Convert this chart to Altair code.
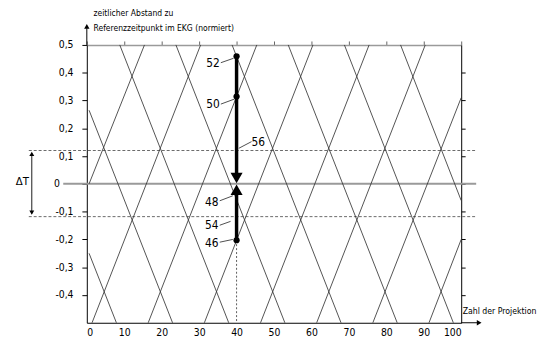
import altair as alt
import pandas as pd

FONT = "Liberation Sans Narrow, DejaVu Sans Condensed, Liberation Sans, Arial, sans-serif"

# ---- rising segments (projection, normalised time distance) ----
up_x1 = [0.6, 1.4, 16.4, 31.4, 46.4, 61.4, 76.4, 91.4]
up_y1 = [0.0, -0.5, -0.5, -0.5, -0.5, -0.5, -0.5, -0.5]
up_x2 = [15.4, 30.4, 45.4, 60.4, 75.4, 90.4, 100, 100]
up_y2 = [0.5, 0.5, 0.5, 0.5, 0.5, 0.5, 0.31, -0.2]
# ---- falling segments ----
dn_x1 = [0.6, 0.6, 8.8, 23.8, 38.8, 53.8, 68.8, 83.8]
dn_y1 = [-0.25, 0.265, 0.5, 0.5, 0.5, 0.5, 0.5, 0.5]
dn_x2 = [7.9, 22.9, 37.9, 52.9, 67.9, 82.9, 97.9, 100]
dn_y2 = [-0.5, -0.5, -0.5, -0.5, -0.5, -0.5, -0.5, -0.06]

# tolerance band (Delta T)
band_y = [0.12, -0.118]
band_x = [-15.5, 104]
zero_x = [-6.3, 104]

# selected projection and marked points
sel_x = 40
dot_labels = ["52", "50", "46"]
dot_y = [0.459, 0.314, -0.203]
arrow_top = [0.459, 0.03]
arrow_bot = [-0.203, -0.03]
head_down_y = 0.021
head_up_y = -0.021

# annotation labels and leader lines
lab_text = ["52", "50", "56", "48", "54", "46"]
lab_x = [33.7, 33.7, 45.8, 33.4, 33.4, 33.4]
lab_y = [0.436, 0.287, 0.152, -0.064, -0.149, -0.213]
lead_x1 = [35.8, 35.8, 44.0, 35.5, 35.5, 35.5]
lead_y1 = [0.436, 0.287, 0.152, -0.061, -0.149, -0.21]
lead_x2 = [39.2, 39.4, 40.6, 39.0, 38.4, 39.0]
lead_y2 = [0.452, 0.305, 0.128, -0.043, -0.135, -0.2]

x_ticks = [0, 10, 20, 30, 40, 50, 60, 70, 80, 90, 100]
y_ticks = [-0.4, -0.3, -0.2, -0.1, 0, 0.1, 0.2, 0.3, 0.4, 0.5]
y_ticks_right = [-0.4, -0.3, -0.2, -0.1, 0, 0.1, 0.2, 0.3, 0.4]

y_title = ["zeitlicher Abstand zu", "Referenzzeitpunkt im EKG (normiert)"]
y_title_y = [0.613, 0.56]
x_title = "Zahl der Projektion"

xs = alt.Scale(domain=[0, 100], nice=False, zero=False)
ys = alt.Scale(domain=[-0.5, 0.5], nice=False, zero=False)

seg = pd.DataFrame({
    "x1": up_x1 + dn_x1, "y1": up_y1 + dn_y1,
    "x2": up_x2 + dn_x2, "y2": up_y2 + dn_y2,
})

# zero is written separately, left of the grey zero line
label_expr = ("datum.value == 0 ? '' : replace(replace(format(datum.value, '.1f'), '.', ','), '\u2212', '-')")

lines = alt.Chart(seg).mark_rule(color="#333333", strokeWidth=0.85).encode(
    x=alt.X("x1:Q", scale=xs, axis=alt.Axis(
        orient="bottom", values=x_ticks, format="d", ticks=False, labelPadding=5,
        labelFontSize=10.5, labelColor="black", domainColor="black", domainWidth=1,
        grid=False, title=None)),
    y=alt.Y("y1:Q", scale=ys, axis=alt.Axis(
        orient="left", values=y_ticks, labelExpr=label_expr, tickSize=5, tickColor="black",
        labelPadding=9, labelFontSize=10.5, labelColor="black", domainColor="black",
        domainWidth=1, grid=False, title=None)),
    x2="x2:Q", y2="y2:Q",
)

ghost = alt.Chart(pd.DataFrame({"x": [0, 100], "y": [-0.5, 0.5]})).mark_point(opacity=0).encode(
    x=alt.X("x:Q", scale=xs, axis=alt.Axis(
        orient="top", values=x_ticks, labels=False, tickSize=4, tickColor="#666",
        domainColor="#9a9a9a", domainWidth=1.6, grid=False, title=None)),
    y=alt.Y("y:Q", scale=ys, axis=alt.Axis(
        orient="right", values=y_ticks_right, labels=False, tickSize=4, tickColor="black",
        domainColor="black", domainWidth=1, grid=False, title=None)),
)

def X(field):
    return alt.X(field, scale=xs, axis=None)

def Y(field):
    return alt.Y(field, scale=ys, axis=None)

zero_line = alt.Chart(pd.DataFrame({"a": [zero_x[0]], "b": [zero_x[1]], "y": [0]})).mark_rule(
    color="#9a9a9a", strokeWidth=2).encode(x=X("a:Q"), x2="b:Q", y=Y("y:Q"))
zero_label = alt.Chart(pd.DataFrame({"x": [-7.2], "y": [0], "t": ["0"]})).mark_text(
    fontSize=10.5, color="black", align="right", baseline="middle", font=FONT).encode(
    x=X("x:Q"), y=Y("y:Q"), text="t:N")

band = alt.Chart(pd.DataFrame({"y": band_y, "a": [band_x[0]] * 2, "b": [band_x[1]] * 2})).mark_rule(
    color="#444", strokeWidth=0.8, strokeDash=[3, 2]).encode(x=X("a:Q"), x2="b:Q", y=Y("y:Q"))

# axis extensions with arrowheads
yext = alt.Chart(pd.DataFrame({"x": [0], "a": [0.5], "b": [0.56]})).mark_rule(
    color="black", strokeWidth=1).encode(x=X("x:Q"), y=Y("a:Q"), y2="b:Q")
yhead = alt.Chart(pd.DataFrame({"x": [0], "y": [0.567]})).mark_point(
    shape="triangle-up", filled=True, color="black", size=30, opacity=1).encode(x=X("x:Q"), y=Y("y:Q"))
xext = alt.Chart(pd.DataFrame({"a": [100], "b": [104.5], "y": [-0.5]})).mark_rule(
    color="black", strokeWidth=1).encode(x=X("a:Q"), x2="b:Q", y=Y("y:Q"))
xhead = alt.Chart(pd.DataFrame({"x": [104.8], "y": [-0.5]})).mark_point(
    shape="triangle-right", filled=True, color="black", size=30, opacity=1).encode(x=X("x:Q"), y=Y("y:Q"))

# Delta T arrow
dt_x = -14.7
dt = alt.Chart(pd.DataFrame({"x": [dt_x], "a": [0.11], "b": [-0.106]})).mark_rule(
    color="black", strokeWidth=0.9).encode(x=X("x:Q"), y=Y("a:Q"), y2="b:Q")
dt_heads = alt.Chart(pd.DataFrame({"x": [dt_x, dt_x], "y": [0.108, -0.104],
                                   "s": ["triangle-up", "triangle-down"]})).mark_point(
    filled=True, color="black", size=25, opacity=1).encode(
    x=X("x:Q"), y=Y("y:Q"), shape=alt.Shape("s:N", scale=None, legend=None))
dt_text = alt.Chart(pd.DataFrame({"x": [-17.2], "y": [0.008], "t": ["\u0394T"]})).mark_text(
    fontSize=11.5, color="black", align="center", baseline="middle", font=FONT).encode(
    x=X("x:Q"), y=Y("y:Q"), text="t:N")

# thick arrows at projection 40
thick = alt.Chart(pd.DataFrame({"x": [sel_x, sel_x], "a": [arrow_top[0], arrow_bot[0]],
                                "b": [arrow_top[1], arrow_bot[1]]})).mark_rule(
    color="black", strokeWidth=3.5).encode(x=X("x:Q"), y=Y("a:Q"), y2="b:Q")
heads = alt.Chart(pd.DataFrame({"x": [sel_x, sel_x], "y": [head_down_y, head_up_y],
                                "s": ["triangle-down", "triangle-up"]})).mark_point(
    filled=True, color="black", size=150, opacity=1).encode(
    x=X("x:Q"), y=Y("y:Q"), shape=alt.Shape("s:N", scale=None, legend=None))
dots = alt.Chart(pd.DataFrame({"x": [sel_x] * 3, "y": dot_y, "l": dot_labels})).mark_circle(
    color="black", size=40, opacity=1).encode(x=X("x:Q"), y=Y("y:Q"))
vdash = alt.Chart(pd.DataFrame({"x": [sel_x], "a": [dot_y[2]], "b": [-0.5]})).mark_rule(
    color="#333", strokeWidth=0.8, strokeDash=[2, 2]).encode(x=X("x:Q"), y=Y("a:Q"), y2="b:Q")

leaders = alt.Chart(pd.DataFrame({"a": lead_x1, "b": lead_y1, "c": lead_x2, "d": lead_y2})).mark_rule(
    color="black", strokeWidth=0.7).encode(x=X("a:Q"), y=Y("b:Q"), x2="c:Q", y2="d:Q")
labels = alt.Chart(pd.DataFrame({"x": lab_x, "y": lab_y, "t": lab_text})).mark_text(
    fontSize=12, color="black", align="center", baseline="middle", font=FONT).encode(
    x=X("x:Q"), y=Y("y:Q"), text="t:N")

ytitle = alt.Chart(pd.DataFrame({"x": [1.8, 1.8], "y": y_title_y, "t": y_title})).mark_text(
    fontSize=8.6, color="black", align="left", baseline="middle", font=FONT).encode(
    x=X("x:Q"), y=Y("y:Q"), text="t:N")
xtitle = alt.Chart(pd.DataFrame({"x": [100.4], "y": [-0.457], "t": [x_title]})).mark_text(
    fontSize=8.8, color="black", align="left", baseline="middle", font=FONT).encode(
    x=X("x:Q"), y=Y("y:Q"), text="t:N")

chart = alt.layer(
    zero_line, zero_label, band, lines, ghost, yext, yhead, xext, xhead, dt, dt_heads, dt_text,
    vdash, thick, heads, dots, leaders, labels, ytitle, xtitle,
).resolve_axis(x="independent", y="independent").properties(
    width=380, height=282,
    autosize=alt.AutoSizeParams(type="none"),
    padding={"left": 80, "top": 35, "right": 81, "bottom": 14},
).configure(font=FONT).configure_view(stroke=None).configure_axis(labelFont=FONT)

chart.save("out.html", embed_options={"renderer": "svg", "actions": False})
